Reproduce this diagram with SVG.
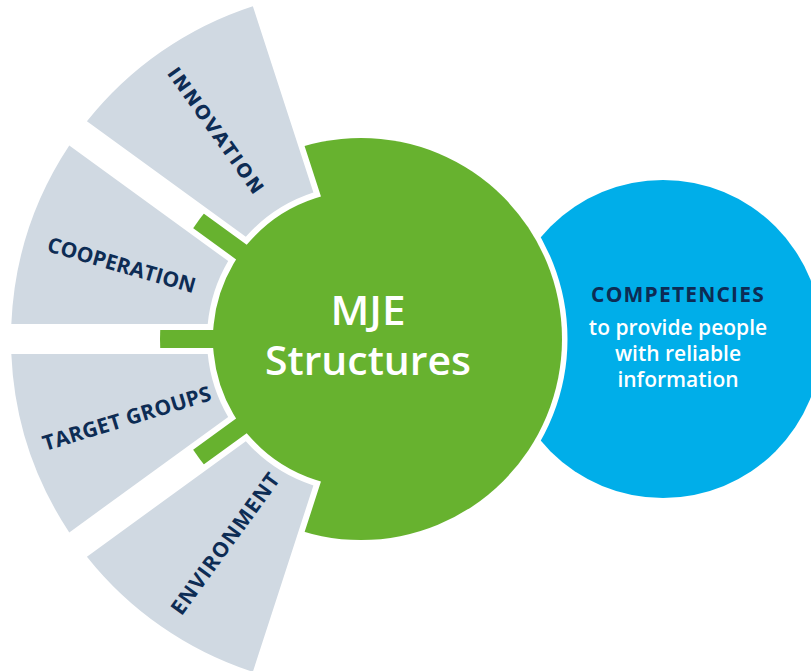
<svg xmlns="http://www.w3.org/2000/svg" width="811" height="671" viewBox="0 0 811 671">
  <style>
    .sector { fill: #d0d9e2; stroke: #ffffff; stroke-width: 12; paint-order: stroke; stroke-linejoin: miter; }
    .label { font-family: "Open Sans", "Liberation Sans", sans-serif; font-weight: 700; font-size: 21px; fill: #0d2c54; text-anchor: middle; }
    .label-alt { font-family: "DejaVu Sans", "Open Sans", sans-serif; font-weight: 700; font-size: 19px; fill: #0d2c54; text-anchor: middle; }
    .hub-text { font-family: "Open Sans", "Liberation Sans", sans-serif; font-weight: 600; font-size: 40px; fill: #ffffff; text-anchor: middle; }
    .comp-title { font-family: "Open Sans", "Liberation Sans", sans-serif; font-weight: 700; font-size: 21px; fill: #0d2c54; text-anchor: middle; letter-spacing: 1.2px; }
    .comp-text { font-family: "Open Sans", "Liberation Sans", sans-serif; font-weight: 600; font-size: 21px; fill: #ffffff; text-anchor: middle; }
  </style>

  <!-- Competencies circle (sits behind the hub) -->
  <g id="competencies">
    <circle cx="663" cy="339" r="159" fill="#00aee9"/>
    <text class="comp-title" x="678" y="302">COMPETENCIES</text>
    <text class="comp-text" x="678" y="335">to provide people</text>
    <text class="comp-text" x="678" y="361">with reliable</text>
    <text class="comp-text" x="678" y="387">information</text>
  </g>

  <!-- Central hub; white rim separates it from the blue circle -->
  <g id="mje-structures">
    <circle cx="361" cy="339" r="201" fill="#67b22f" stroke="#ffffff" stroke-width="11" paint-order="stroke"/>
    <text class="hub-text" x="368" y="325" textLength="75" lengthAdjust="spacingAndGlyphs">MJE</text>
    <text class="hub-text" x="368" y="375" textLength="206" lengthAdjust="spacingAndGlyphs">Structures</text>
  </g>

  <!-- Annular sectors around the hub, center (361,339), r 154..350 -->
  <g id="innovation">
    <path class="sector" d="M86.92,121.32 A350,350 0 0 1 252.84,6.13 L313.41,192.54 A154,154 0 0 0 245.82,236.77 Z"/>
    <text class="label-alt" transform="translate(215.8,130.3) rotate(54.5)" x="0" y="6.9" textLength="150" lengthAdjust="spacing">INNOVATION</text>
  </g>

  <g id="cooperation">
    <path class="sector" d="M11.32,324 A350,350 0 0 1 69.28,145.60 L228.18,261.05 A154,154 0 0 0 207.73,324 Z"/>
    <text class="label" transform="translate(121.7,265) rotate(16)" x="0" y="7.5" textLength="153" lengthAdjust="spacing">COOPERATION</text>
  </g>

  <g id="target-groups">
    <path class="sector" d="M69.28,532.40 A350,350 0 0 1 11.32,354 L207.73,354 A154,154 0 0 0 228.18,416.95 Z"/>
    <text class="label" transform="translate(126.7,418.3) rotate(-17)" x="0" y="7.5" textLength="175" lengthAdjust="spacing">TARGET GROUPS</text>
  </g>

  <g id="environment">
    <path class="sector" d="M252.84,671.87 A350,350 0 0 1 86.92,556.68 L245.82,441.23 A154,154 0 0 0 313.41,485.46 Z"/>
    <text class="label" transform="translate(225,543.7) rotate(-54)" x="0" y="7.5" textLength="169" lengthAdjust="spacing">ENVIRONMENT</text>
  </g>
</svg>
